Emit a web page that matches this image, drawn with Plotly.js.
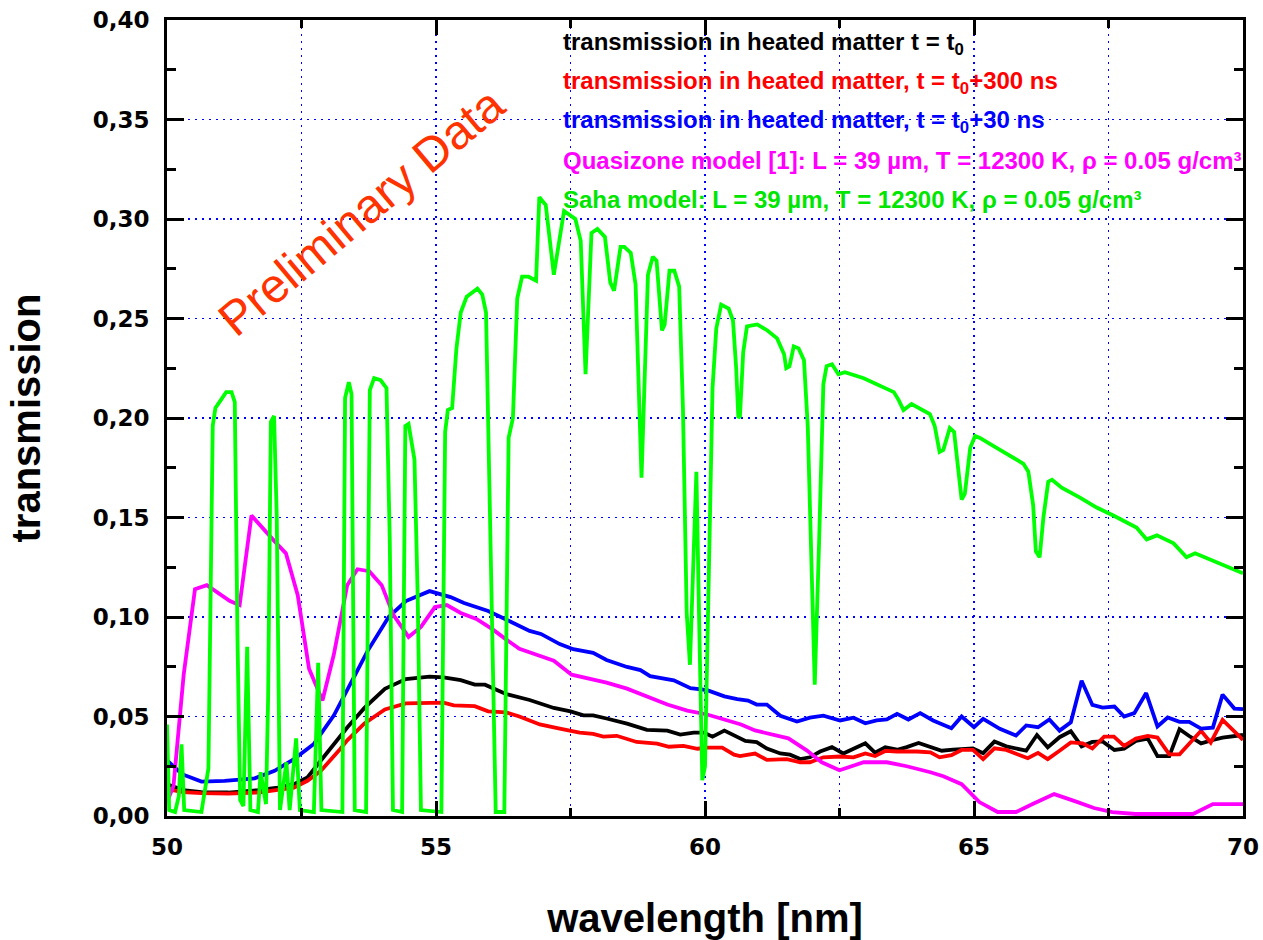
<!DOCTYPE html>
<html>
<head>
<meta charset="utf-8">
<script src="https://cdn.plot.ly/plotly-3.0.1.min.js"></script>
<style>html,body{margin:0;padding:0;background:#fff;}#chart{width:1263px;height:940px;}</style>
</head>
<body>
<div id="chart"></div>
<script>
// ---- data (wavelength in nm, transmission) ----
const blackX = [50.00,50.30,50.64,51.14,51.69,52.06,52.36,52.61,52.86,53.22,53.35,53.67,54.05,54.44,54.88,55.14,55.46,55.72,55.91,56.30,56.74,57.19,57.50,57.74,57.92,58.17,58.55,58.92,59.30,59.54,59.79,59.98,60.14,60.36,60.55,60.75,60.96,61.15,61.40,61.58,61.77,61.95,62.14,62.36,62.57,62.76,62.98,63.16,63.35,63.57,63.75,63.97,64.18,64.40,64.61,64.98,65.17,65.38,65.60,65.97,66.17,66.37,66.59,66.80,67.00,67.20,67.39,67.61,67.79,68.01,68.23,68.41,68.63,68.82,69.00,69.22,69.44,69.62,70.00];
const blackY = [0.016,0.013,0.012,0.0118,0.013,0.0143,0.016,0.0194,0.0279,0.0404,0.0445,0.0543,0.0639,0.0688,0.070,0.0697,0.0683,0.066,0.066,0.0613,0.0583,0.0543,0.0526,0.0506,0.0506,0.049,0.0464,0.0433,0.0429,0.0409,0.0419,0.0419,0.0399,0.0429,0.0405,0.0377,0.0371,0.0339,0.0314,0.0308,0.0286,0.0295,0.0324,0.0346,0.0314,0.0339,0.0365,0.0318,0.0346,0.0333,0.0346,0.0367,0.035,0.0328,0.0333,0.034,0.0316,0.0374,0.035,0.0328,0.0407,0.0345,0.0396,0.0426,0.035,0.0372,0.0375,0.0332,0.0338,0.0377,0.0389,0.0301,0.0301,0.0436,0.0402,0.0365,0.0382,0.0394,0.0407];

const redX = [50.00,50.30,50.64,51.14,51.69,52.06,52.36,52.61,52.86,53.22,53.35,53.67,54.05,54.44,54.88,55.14,55.33,55.72,55.97,56.30,56.55,56.93,57.30,57.67,57.92,58.11,58.36,58.73,59.11,59.33,59.60,59.86,60.04,60.32,60.54,60.65,60.93,61.15,61.52,61.77,61.95,62.20,62.51,62.76,62.98,63.16,63.35,63.57,63.94,64.19,64.36,64.58,64.77,64.98,65.17,65.38,65.60,66.00,66.19,66.37,66.59,66.80,67.02,67.20,67.42,67.60,67.79,68.01,68.23,68.41,68.63,68.82,69.22,69.40,69.62,70.00];
const redY = [0.0135,0.012,0.0115,0.0112,0.0118,0.013,0.0143,0.0177,0.0227,0.0337,0.038,0.0465,0.0535,0.0566,0.057,0.057,0.0556,0.0552,0.0526,0.0521,0.050,0.046,0.0439,0.0419,0.0413,0.0399,0.0403,0.0372,0.0364,0.0348,0.0352,0.0338,0.0344,0.0344,0.0308,0.0301,0.0314,0.0282,0.0286,0.027,0.027,0.0295,0.0299,0.0295,0.0314,0.0301,0.0327,0.0324,0.0324,0.032,0.0295,0.0306,0.0332,0.0332,0.0286,0.034,0.0332,0.029,0.0317,0.0286,0.0328,0.037,0.0365,0.034,0.0399,0.0399,0.0352,0.0389,0.0402,0.0394,0.031,0.031,0.0428,0.0369,0.0483,0.0382];

const blueX = [50.00,50.28,50.64,51.07,51.63,52.00,52.36,52.73,53.10,53.35,53.59,53.73,54.12,54.44,54.88,55.27,55.52,55.97,56.36,56.74,56.95,57.30,57.55,57.92,58.17,58.55,58.80,58.98,59.42,59.73,60.04,60.36,60.60,60.80,60.96,61.15,61.40,61.71,61.95,62.20,62.51,62.76,62.98,63.19,63.38,63.57,63.78,64.00,64.24,64.58,64.77,65.00,65.17,65.48,65.78,65.97,66.19,66.40,66.59,66.80,67.00,67.20,67.39,67.61,67.79,67.98,68.20,68.41,68.60,68.82,69.00,69.22,69.44,69.62,69.84,70.00];
const blueY = [0.028,0.021,0.0173,0.0177,0.0189,0.0227,0.0286,0.0362,0.0505,0.063,0.0758,0.083,0.100,0.108,0.113,0.110,0.107,0.103,0.098,0.093,0.0915,0.0864,0.0838,0.082,0.0784,0.0749,0.0733,0.0703,0.0682,0.0642,0.0632,0.0601,0.0587,0.058,0.056,0.056,0.0504,0.0475,0.0494,0.0504,0.048,0.0494,0.0466,0.048,0.0485,0.0513,0.0485,0.0517,0.048,0.0441,0.050,0.0446,0.0488,0.0438,0.0404,0.0455,0.0446,0.0485,0.0429,0.0471,0.068,0.0558,0.0545,0.055,0.050,0.0517,0.0618,0.045,0.0495,0.0473,0.0473,0.0439,0.0444,0.061,0.054,0.0537];

const quasiX = [50.00,50.12,50.31,50.52,50.74,51.17,51.35,51.57,52.00,52.21,52.43,52.64,52.89,53.10,53.35,53.54,53.76,53.99,54.21,54.49,54.72,54.98,55.20,55.46,55.75,56.04,56.29,56.55,56.87,57.19,57.52,57.86,58.17,58.55,58.92,59.30,59.67,60.04,60.42,60.67,60.93,61.55,61.89,62.17,62.50,62.95,63.38,63.75,64.19,64.43,64.77,65.10,65.44,65.78,66.09,66.49,66.86,67.23,67.57,68.00,69.07,69.44,70.00];
const quasiY = [0.007,0.015,0.071,0.114,0.116,0.108,0.106,0.151,0.138,0.132,0.111,0.074,0.058,0.081,0.116,0.124,0.123,0.116,0.101,0.090,0.095,0.105,0.106,0.102,0.099,0.094,0.089,0.084,0.081,0.078,0.071,0.069,0.067,0.064,0.060,0.056,0.053,0.051,0.048,0.046,0.043,0.039,0.033,0.027,0.023,0.027,0.027,0.025,0.022,0.020,0.016,0.007,0.002,0.002,0.006,0.011,0.0076,0.004,0.002,0.001,0.001,0.006,0.006];

const sahaX = [50.00,50.04,50.15,50.22,50.27,50.32,50.64,50.77,50.85,50.90,51.00,51.10,51.20,51.26,51.31,51.36,51.42,51.49,51.55,51.69,51.74,51.79,51.84,51.88,51.93,51.99,52.04,52.10,52.22,52.28,52.40,52.47,52.73,52.81,52.87,53.26,53.31,53.38,53.43,53.49,53.70,53.77,53.85,53.97,54.08,54.14,54.20,54.37,54.43,54.49,54.60,54.66,54.72,55.10,55.17,55.22,55.30,55.38,55.46,55.57,55.77,55.86,55.93,55.99,56.07,56.11,56.27,56.35,56.43,56.51,56.60,56.72,56.86,56.92,57.04,57.19,57.38,57.48,57.59,57.69,57.78,57.89,58.00,58.14,58.24,58.31,58.43,58.50,58.62,58.71,58.82,58.94,59.03,59.10,59.20,59.25,59.34,59.43,59.52,59.59,59.66,59.72,59.78,59.84,59.89,59.95,60.00,60.08,60.14,60.21,60.30,60.44,60.52,60.58,60.62,60.65,60.71,60.78,60.97,61.16,61.34,61.47,61.51,61.57,61.65,61.74,61.84,61.91,61.97,62.04,62.12,62.20,62.26,62.36,62.48,62.60,62.95,63.26,63.51,63.60,63.69,63.84,64.18,64.27,64.36,64.43,64.55,64.63,64.71,64.77,64.83,64.93,65.02,65.11,65.42,65.73,65.92,66.01,66.10,66.15,66.22,66.29,66.38,66.45,66.63,66.97,67.28,67.59,68.02,68.21,68.40,68.71,68.95,69.11,69.45,70.00];
const sahaY = [0.046,0.003,0.002,0.010,0.036,0.003,0.002,0.024,0.196,0.205,0.209,0.213,0.213,0.208,0.090,0.008,0.005,0.085,0.003,0.002,0.022,0.015,0.006,0.060,0.198,0.201,0.150,0.003,0.027,0.003,0.039,0.003,0.002,0.077,0.003,0.002,0.210,0.218,0.212,0.003,0.002,0.214,0.220,0.219,0.215,0.140,0.003,0.002,0.196,0.197,0.179,0.110,0.003,0.002,0.193,0.204,0.205,0.235,0.253,0.261,0.265,0.262,0.253,0.170,0.040,0.002,0.002,0.190,0.200,0.260,0.271,0.271,0.269,0.311,0.307,0.272,0.304,0.302,0.300,0.289,0.222,0.293,0.295,0.291,0.268,0.264,0.286,0.286,0.283,0.267,0.170,0.272,0.281,0.279,0.244,0.247,0.274,0.274,0.266,0.205,0.102,0.076,0.130,0.173,0.100,0.018,0.025,0.130,0.215,0.245,0.257,0.255,0.249,0.225,0.200,0.201,0.233,0.246,0.247,0.244,0.240,0.232,0.225,0.226,0.236,0.235,0.229,0.196,0.133,0.066,0.137,0.217,0.226,0.227,0.222,0.223,0.220,0.216,0.213,0.209,0.204,0.207,0.202,0.196,0.183,0.184,0.195,0.193,0.175,0.159,0.162,0.185,0.191,0.190,0.185,0.180,0.177,0.173,0.156,0.133,0.130,0.150,0.168,0.169,0.165,0.160,0.155,0.151,0.145,0.139,0.141,0.137,0.130,0.132,0.128,0.122];

const seriesNames = [
  'transmission in heated matter t = t<sub>0</sub>',
  'transmission in heated matter, t = t<sub>0</sub>+300 ns',
  'transmission in heated matter, t = t<sub>0</sub>+30 ns',
  'Quasizone model [1]: L = 39 µm, T = 12300 K, ρ = 0.05 g/cm³',
  'Saha model: L = 39 µm, T = 12300 K, ρ = 0.05 g/cm³'
];
const seriesColors = ['#000000', '#ff0000', '#0000ff', '#ff00ff', '#00ff00'];
const legendTextColors = ['#000000', '#ff0000', '#0000ff', '#ff00ff', '#00e600'];

// ---- traces ----
const xs = [blackX, redX, blueX, quasiX, sahaX];
const ys = [blackY, redY, blueY, quasiY, sahaY];
const traces = xs.map((x, i) => ({
  x: x, y: ys[i], type: 'scatter', mode: 'lines', name: seriesNames[i],
  line: {color: seriesColors[i], width: 3.8}, showlegend: false
}));

const tickFont = {family: 'DejaVu Sans, sans-serif', size: 23, weight: 'bold', color: '#000'};
const titleFont = {family: 'Liberation Sans, Arial, sans-serif', size: 40, weight: 'bold', color: '#000'};
const gridCol = '#0000ff';

const legendY = [0.971, 0.922, 0.873, 0.824, 0.775];
const annotations = seriesNames.map((t, i) => ({
  xref: 'paper', yref: 'paper', x: 0.366, y: legendY[i], xanchor: 'left', yanchor: 'middle',
  text: t, showarrow: false,
  font: {family: 'Liberation Sans, Arial, sans-serif', size: 24, weight: 'bold', color: legendTextColors[i]}
}));
annotations.push({
  xref: 'paper', yref: 'paper', x: 0.181, y: 0.759, xanchor: 'center', yanchor: 'middle',
  text: 'Preliminary Data', showarrow: false, textangle: -40,
  font: {family: 'Liberation Sans, Arial, sans-serif', size: 48, color: '#ff3300'}
});

const layout = {
  width: 1263, height: 940,
  margin: {l: 167, r: 20, t: 20, b: 124},
  paper_bgcolor: '#ffffff', plot_bgcolor: '#ffffff',
  separators: ',.',
  showlegend: false,
  xaxis: {
    range: [50, 70], dtick: 5, tick0: 50,
    showline: true, linecolor: '#000', linewidth: 3, mirror: 'allticks',
    ticks: 'inside', ticklen: 15, tickwidth: 3, tickcolor: '#000',
    showgrid: true, gridcolor: gridCol, gridwidth: 1.2, griddash: '2px,5px',
    zeroline: false, tickfont: tickFont, ticklabelstandoff: 8,
    minor: {dtick: 2.5, ticks: 'inside', ticklen: 8, tickwidth: 3, tickcolor: '#000',
            showgrid: true, gridcolor: gridCol, gridwidth: 1.2, griddash: '2px,5px'},
    title: {text: 'wavelength [nm]', font: titleFont, standoff: 48}
  },
  yaxis: {
    range: [0, 0.40], dtick: 0.05, tick0: 0, tickformat: '.2f',
    showline: true, linecolor: '#000', linewidth: 3, mirror: 'allticks',
    ticks: 'inside', ticklen: 17, tickwidth: 3, tickcolor: '#000',
    showgrid: true, gridcolor: gridCol, gridwidth: 1.2, griddash: '2px,5px',
    zeroline: false, tickfont: tickFont, ticklabelstandoff: 10,
    minor: {dtick: 0.025, ticks: 'inside', ticklen: 9, tickwidth: 3, tickcolor: '#000', showgrid: false},
    title: {text: 'transmission', font: titleFont, standoff: 40}
  },
  annotations: annotations
};

Plotly.newPlot('chart', traces, layout, {displayModeBar: false, staticPlot: true});
</script>
</body>
</html>
